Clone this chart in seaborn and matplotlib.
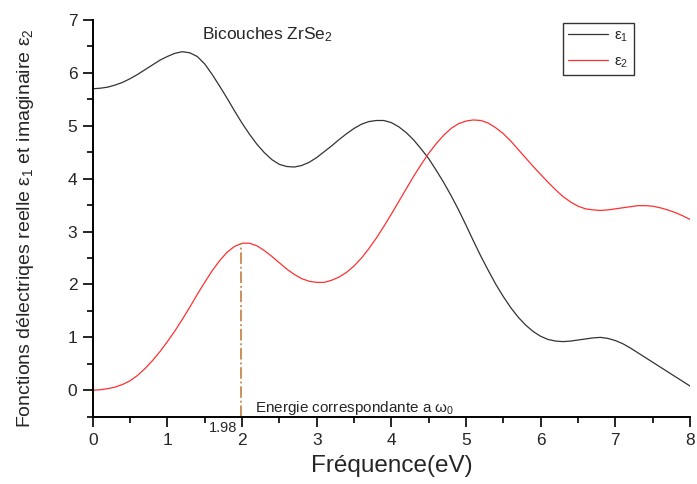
import numpy as np
import pandas as pd
import matplotlib
matplotlib.use("Agg")
import matplotlib.pyplot as plt
import seaborn as sns
from matplotlib.ticker import MultipleLocator

# ---- data ----
energy = [0.0, 0.1, 0.2, 0.3, 0.4, 0.5, 0.6, 0.7, 0.8, 0.9,
          1.0, 1.1, 1.2, 1.3, 1.4, 1.5, 1.6, 1.7, 1.8, 1.9,
          2.0, 2.1, 2.2, 2.3, 2.4, 2.5, 2.6, 2.7, 2.8, 2.9,
          3.0, 3.1, 3.2, 3.3, 3.4, 3.5, 3.6, 3.7, 3.8, 3.9,
          4.0, 4.1, 4.2, 4.3, 4.4, 4.5, 4.6, 4.7, 4.8, 4.9,
          5.0, 5.1, 5.2, 5.3, 5.4, 5.5, 5.6, 5.7, 5.8, 5.9,
          6.0, 6.1, 6.2, 6.3, 6.4, 6.5, 6.6, 6.7, 6.8, 6.9,
          7.0, 7.1, 7.2, 7.3, 7.4, 7.5, 7.6, 7.7, 7.8, 7.9, 8.0]
eps1 = [5.70, 5.71, 5.73, 5.77, 5.82, 5.89, 5.97, 6.06, 6.15, 6.24,
        6.31, 6.37, 6.40, 6.38, 6.31, 6.17, 5.97, 5.75, 5.52, 5.28,
        5.05, 4.84, 4.65, 4.49, 4.36, 4.27, 4.23, 4.22, 4.25, 4.31,
        4.40, 4.51, 4.62, 4.74, 4.85, 4.95, 5.03, 5.08, 5.10, 5.10,
        5.06, 4.98, 4.87, 4.73, 4.56, 4.38, 4.16, 3.93, 3.68, 3.41,
        3.12, 2.82, 2.53, 2.26, 2.00, 1.77, 1.56, 1.38, 1.23, 1.11,
        1.02, 0.96, 0.93, 0.92, 0.93, 0.95, 0.97, 0.99, 1.00, 0.98,
        0.94, 0.88, 0.80, 0.71, 0.62, 0.53, 0.44, 0.35, 0.26, 0.17, 0.08]
eps2 = [0.00, 0.01, 0.03, 0.06, 0.11, 0.18, 0.28, 0.41, 0.56, 0.73,
        0.92, 1.12, 1.34, 1.57, 1.81, 2.04, 2.26, 2.45, 2.61, 2.72,
        2.78, 2.78, 2.73, 2.64, 2.53, 2.41, 2.29, 2.19, 2.11, 2.06,
        2.04, 2.04, 2.08, 2.14, 2.23, 2.35, 2.50, 2.68, 2.88, 3.10,
        3.33, 3.57, 3.81, 4.05, 4.27, 4.48, 4.66, 4.82, 4.95, 5.04,
        5.09, 5.11, 5.10, 5.05, 4.96, 4.85, 4.71, 4.55, 4.39, 4.23,
        4.08, 3.93, 3.79, 3.66, 3.56, 3.48, 3.43, 3.41, 3.40, 3.41,
        3.43, 3.45, 3.47, 3.49, 3.49, 3.48, 3.45, 3.41, 3.36, 3.30, 3.23]
series_labels = [r"$\varepsilon_1$", r"$\varepsilon_2$"]
x_ticks = [0, 1, 2, 3, 4, 5, 6, 7, 8]
y_ticks = [0, 1, 2, 3, 4, 5, 6, 7]
omega0_energy = 1.98
omega0_eps2 = 2.78

sns.set_style("ticks")
plt.rcParams["font.family"] = ["Liberation Sans", "DejaVu Sans"]
plt.rcParams["mathtext.fontset"] = "custom"
plt.rcParams["mathtext.rm"] = "Liberation Sans"
plt.rcParams["mathtext.it"] = "Liberation Sans"

df = pd.DataFrame({
    "E": energy * 2,
    "val": eps1 + eps2,
    "serie": [series_labels[0]] * len(energy) + [series_labels[1]] * len(energy),
})

fig = plt.figure(figsize=(6.97, 4.84), dpi=100)
ax = fig.add_axes([0.133, 0.139, 0.857, 0.8197])

sns.lineplot(data=df, x="E", y="val", hue="serie", ax=ax,
             palette=["#333333", "#ff3030"], linewidth=0.9, legend=False)

ax.set_xlim(0, 8)
ax.set_ylim(-0.5, 7)
ax.set_xticks(x_ticks)
ax.set_yticks(y_ticks)
ax.xaxis.set_minor_locator(MultipleLocator(0.5))
ax.yaxis.set_minor_locator(MultipleLocator(0.5))
ax.tick_params(which="major", direction="out", length=7, width=1.2, labelsize=12.5, color="black")
ax.tick_params(which="minor", direction="out", length=4, width=1.2, color="black")
ax.tick_params(axis="x", which="major", pad=5)
ax.tick_params(axis="y", which="major", pad=4)
for s in ["top", "right"]:
    ax.spines[s].set_visible(False)
for s in ["left", "bottom"]:
    ax.spines[s].set_linewidth(1.4)
    ax.spines[s].set_color("black")

ax.set_xlabel("Fréquence(eV)", fontsize=17.5, labelpad=5)
ax.set_ylabel(r"Fonctions délectriqes reelle $\varepsilon_1$ et imaginaire $\varepsilon_2$",
              fontsize=14.0, va="center")
ax.yaxis.set_label_coords(-0.113, 0.474)

# vertical marker
ax.plot([omega0_energy, omega0_energy], [-0.5, omega0_eps2], color="#c8874f",
        linestyle="-.", linewidth=1.3)
ax.text(1.93, -0.58, "1.98", ha="right", va="top", fontsize=10.5, clip_on=False)
ax.text(2.17, -0.33, r"Energie correspondante a $\omega_0$", ha="left", va="center", fontsize=11)
ax.text(1.47, 6.73, r"Bicouches ZrSe$_2$", ha="left", va="center", fontsize=12.5)

# legend
lines = ax.get_lines()[:2]
leg = ax.legend(lines, series_labels, loc="upper left", bbox_to_anchor=(0.787, 0.992),
                frameon=True, fancybox=False, edgecolor="black", fontsize=11,
                handlelength=2.6, borderpad=0.35, labelspacing=0.7, handletextpad=0.4,
                borderaxespad=0)
leg.get_frame().set_linewidth(1.0)

fig.savefig("out.png", dpi=100)
